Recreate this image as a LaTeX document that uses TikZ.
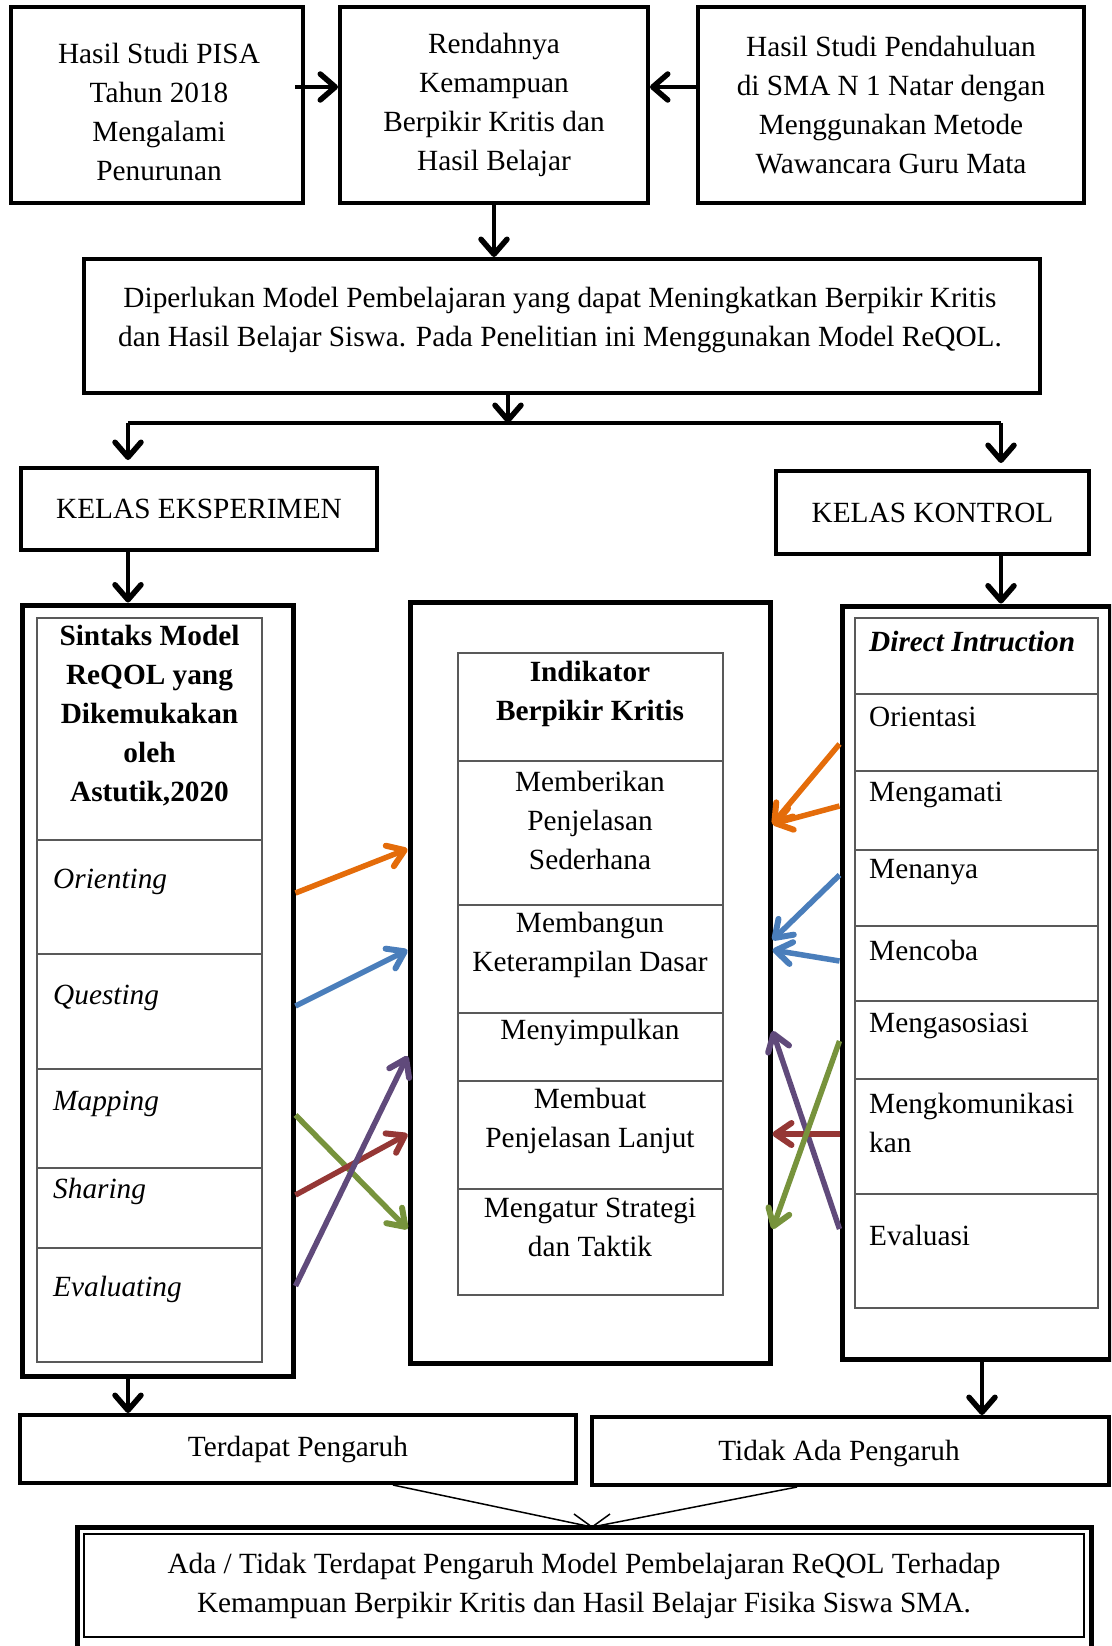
\documentclass[tikz,border=0pt]{standalone}
\usepackage{fontspec}
\setmainfont{Liberation Serif}
\usetikzlibrary{arrows.meta}
\definecolor{orangeline}{HTML}{E46C0A}
\definecolor{blueline}{HTML}{4A7EBB}
\definecolor{greenline}{HTML}{77933C}
\definecolor{redline}{HTML}{953735}
\definecolor{purpleline}{HTML}{604A7B}
\newcommand{\diagfont}{\fontsize{29.3}{39}\selectfont}
\begin{document}
\begin{tikzpicture}[x=1pt, y=-1pt, font=\diagfont,
  box/.style={draw, line width=4pt, inner sep=0pt, align=center},
  txt/.style={inner sep=0pt, align=center},
  tab/.style={draw=black!65, line width=1.2pt},
  arr/.style={line width=4.5pt, -{Straight Barb[length=15pt,width=26pt,line width=5.5pt 0 0,round]}},
  carr/.style={line width=5.5pt, -{Straight Barb[length=16pt,width=22pt,line width=6pt 0 0,round]}}]
  \clip (0,0) rectangle (1111,1646);
  \node[box, minimum width=292pt, minimum height=196pt] (pisa) at (157,105) {};
  \node[txt] (pisatxt) at (159,112) {Hasil Studi PISA\\Tahun 2018\\Mengalami\\Penurunan};
  \node[box, minimum width=308pt, minimum height=196pt] (rendah) at (494,105)
    {Rendahnya\\Kemampuan\\Berpikir Kritis dan\\Hasil Belajar};
  \node[box, minimum width=386pt, minimum height=196pt] (pendahuluan) at (891,105)
    {Hasil Studi Pendahuluan\\di SMA N 1 Natar dengan\\Menggunakan Metode\\Wawancara Guru Mata};
  \node[box, minimum width=956pt, minimum height=134pt] (model) at (562,326) {};
  \node[txt] (modeltxt) at (560,320)
    {Diperlukan Model Pembelajaran yang dapat Meningkatkan Berpikir Kritis\\
     dan Hasil Belajar Siswa. Pada Penelitian ini Menggunakan Model ReQOL.};
  \node[box, minimum width=356pt, minimum height=82pt] (eks) at (199,509) {KELAS EKSPERIMEN};
  \node[box, minimum width=313pt, minimum height=83pt] (kon) at (932.5,512.5) {KELAS KONTROL};

  \node[box, line width=5pt, minimum width=271pt, minimum height=771pt] (leftcol) at (157.5,990.5) {};
  \node[box, line width=5pt, minimum width=360pt, minimum height=761pt] (midcol) at (590,982.5) {};
  \node[box, line width=5pt, minimum width=268pt, minimum height=753pt] (rightcol) at (976,982.5) {};

  \draw[tab] (37,618) rectangle (262,1362);
  \foreach \y in {840,954,1069,1168,1248}
    \draw[tab] (37,\y) -- (262,\y);
  \draw[tab] (458,653) rectangle (723,1295);
  \foreach \y in {761,905,1013,1081,1189}
    \draw[tab] (458,\y) -- (723,\y);
  \draw[tab] (855,618) rectangle (1098,1308);
  \foreach \y in {694,771,850,926,1001,1079,1194}
    \draw[tab] (855,\y) -- (1098,\y);

  \node[txt, font=\diagfont\bfseries] (sintaks) at (149.5,716)
    {Sintaks Model\\ReQOL yang\\Dikemukakan\\oleh\\Astutik,2020};
  \foreach \t/\y [count=\i] in {Orienting/882, Questing/998, Mapping/1104, Sharing/1191, Evaluating/1289}
    \node[txt, anchor=west, font=\diagfont\itshape] (sy\i) at (53,\y) {\t};

  \node[txt, font=\diagfont\bfseries] (indikator) at (590,694) {Indikator\\Berpikir Kritis};
  \node[txt] (ind1) at (590,820) {Memberikan\\Penjelasan\\Sederhana};
  \node[txt] (ind2) at (590,945) {Membangun\\Keterampilan Dasar};
  \node[txt] (ind3) at (590,1032) {Menyimpulkan};
  \node[txt] (ind4) at (590,1121) {Membuat\\Penjelasan Lanjut};
  \node[txt] (ind5) at (590,1227) {Mengatur Strategi\\dan Taktik};

  \node[txt, anchor=west, font=\diagfont\bfseries\itshape] (direct) at (869,641) {Direct Intruction};
  \foreach \t/\y [count=\i] in {Orientasi/717, Mengamati/795, Menanya/872, Mencoba/950, Mengasosiasi/1026, Evaluasi/1235}
    \node[txt, anchor=west] (di\i) at (869,\y) {\t};
  \node[txt, anchor=west, align=left] (di7) at (869,1122.5) {Mengkomunikasi\\kan};

  \node[box, minimum width=556pt, minimum height=68pt] (ter) at (298,1449) {Terdapat Pengaruh};
  \node[box, minimum width=517pt, minimum height=68pt] (tid) at (850.5,1451) {};
  \node[txt] (tidtxt) at (839,1453) {Tidak Ada Pengaruh};
  \node[box, line width=5pt, minimum width=1014pt, minimum height=133pt] (hasil) at (584,1593.5) {};
  \node[box, line width=1.2pt, minimum width=1000pt, minimum height=103pt] (hasilin) at (584,1585.5)
    {Ada / Tidak Terdapat Pengaruh Model Pembelajaran ReQOL Terhadap\\
     Kemampuan Berpikir Kritis dan Hasil Belajar Fisika Siswa SMA.};

  \draw[arr] ([xshift=-10pt]pisa.east |- 0,87) -- (rendah.west |- 0,87);
  \draw[arr] (pendahuluan.west |- 0,87) -- (rendah.east |- 0,87);
  \draw[arr] (rendah.south) -- (model.north -| rendah.south);
  \coordinate (split) at (508,423);
  \coordinate (jl) at (128,423);
  \coordinate (jr) at (1001,423);
  \draw[arr] (model.south -| split) -- (split);
  \draw[line width=4.5pt] (jl) -- (jr);
  \draw[arr] (jl) -- ([yshift=6pt]jl |- eks.north);
  \draw[arr] (jr) -- ([yshift=6pt]jr |- kon.north);
  \draw[arr] (eks.south -| jl) -- (leftcol.north -| jl);
  \draw[arr] (kon.south -| jr) -- (rightcol.north -| jr);
  \draw[arr] (leftcol.south -| jl) -- (ter.north -| jl);
  \draw[arr] (rightcol.south -| 982,0) -- (tid.north -| 982,0);

  \draw[carr, orangeline] (leftcol.east |- 0,893) -- (midcol.west |- 0,849);
  \draw[carr, blueline] (leftcol.east |- 0,1006) -- (midcol.west |- 0,950);
  \draw[carr, greenline] (leftcol.east |- 0,1115) -- (midcol.west |- 0,1229);
  \draw[carr, redline] (leftcol.east |- 0,1195) -- (midcol.west |- 0,1134);
  \draw[carr, purpleline] (leftcol.east |- 0,1286) -- (midcol.west |- 0,1056);

  \draw[carr, orangeline] (rightcol.west |- 0,744) -- (midcol.east |- 0,824);
  \draw[carr, orangeline] (rightcol.west |- 0,806) -- (midcol.east |- 0,824);
  \draw[carr, blueline] (rightcol.west |- 0,875) -- (midcol.east |- 0,940);
  \draw[carr, blueline] (rightcol.west |- 0,961) -- (midcol.east |- 0,950);
  \draw[carr, purpleline] (rightcol.west |- 0,1229) -- (midcol.east |- 0,1031);
  \draw[carr, redline] (rightcol.west |- 0,1134) -- (midcol.east |- 0,1134);
  \draw[carr, greenline] (rightcol.west |- 0,1041) -- (midcol.east |- 0,1229);

  \coordinate (meet) at (592,1527);
  \draw[line width=1.5pt] (ter.south -| 393,0) -- (meet) -- (tid.south -| 797,0);
  \draw[line width=1.5pt] (meet) ++(-18,-13) -- (meet) -- ++(18,-13);
\end{tikzpicture}
\end{document}
